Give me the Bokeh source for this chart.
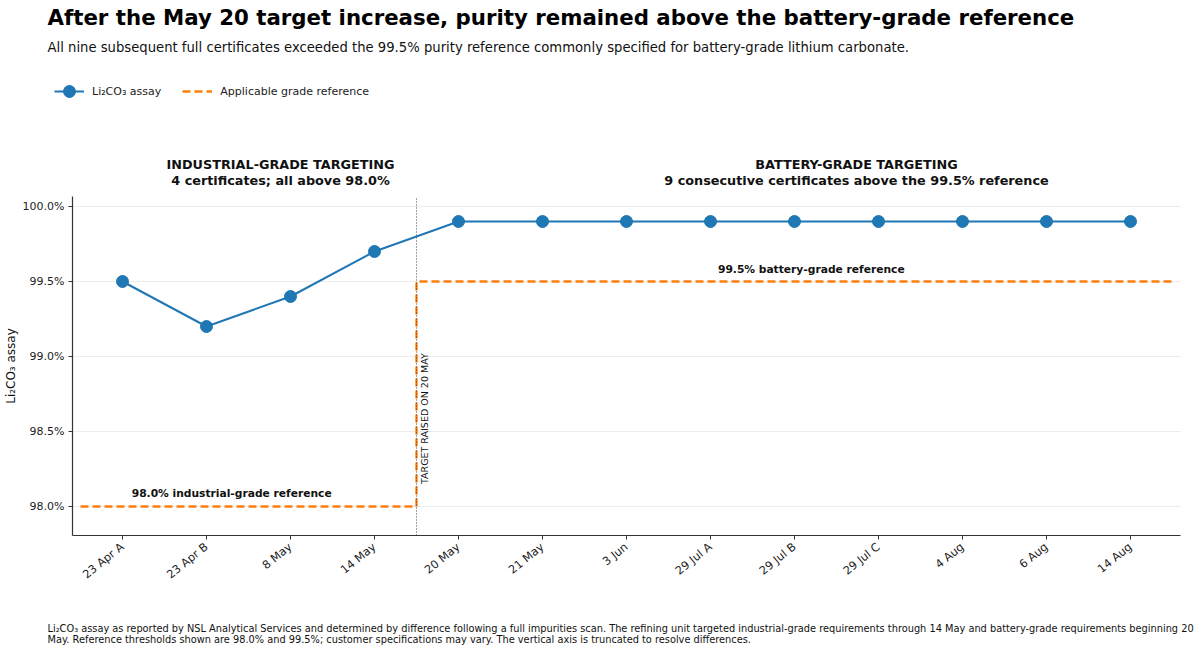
import numpy as np
from bokeh.plotting import figure
from bokeh.models import (Range1d, FixedTicker, PrintfTickFormatter, Label, LinearAxis,
                          Legend, LegendItem, ColumnDataSource, Grid)
from bokeh.embed import file_html
from bokeh.resources import INLINE

# ---------------- data ----------------
categories = ["23 Apr A", "23 Apr B", "8 May", "14 May", "20 May", "21 May", "3 Jun",
              "29 Jul A", "29 Jul B", "29 Jul C", "4 Aug", "6 Aug", "14 Aug"]
assay = [99.5, 99.2, 99.4, 99.7, 99.9, 99.9, 99.9, 99.9, 99.9, 99.9, 99.9, 99.9, 99.9]
n_industrial = 4                      # certificates under industrial-grade targeting
reference_levels = [98.0, 99.5]       # industrial, battery grade reference (%)
y_ticks = [98.0, 98.5, 99.0, 99.5, 100.0]

FONT = "DejaVu Sans"
BLUE = "#1f77b4"
ORANGE = "#ff7f0e"
AXIS = "#333333"

# canvas geometry (one figure whose frame covers the whole canvas)
W, H = 1196, 650
PX_X, X0_PX = 84.0, 122.0        # pixels per category step, pixel of first category
PX_Y, Y100_PX = 150.0, 206.0     # pixels per 1 %, pixel of 100 %
x_lo, x_hi = -0.595, len(categories) - 1 + 0.595      # plotting area
y_lo, y_hi = 97.8067, 100.0667

x = list(range(len(categories)))
switch = n_industrial - 0.5
start, end = -0.5, len(categories) - 0.5

p = figure(width=W, height=H, output_backend="svg", toolbar_location=None,
           x_range=Range1d(-X0_PX / PX_X, (W - X0_PX) / PX_X),
           y_range=Range1d(100 - (H - Y100_PX) / PX_Y, 100 + Y100_PX / PX_Y),
           x_axis_location=None, y_axis_location=None,
           min_border=0, min_border_left=0, min_border_right=0,
           min_border_top=0, min_border_bottom=0)
p.background_fill_color = "white"
p.border_fill_color = "white"
p.outline_line_color = None
# drop any automatic grids
p.renderers = [r for r in p.renderers if not isinstance(r, Grid)]
p.center = [c for c in p.center if not isinstance(c, Grid)]

# axes fixed at the edges of the plotting area
yaxis = LinearAxis(fixed_location=x_lo, bounds=(y_lo, y_hi),
                   ticker=FixedTicker(ticks=y_ticks), formatter=PrintfTickFormatter(format="%.1f%%"))
xaxis = LinearAxis(fixed_location=y_lo, bounds=(x_lo, x_hi), ticker=FixedTicker(ticks=x),
                   major_label_overrides={i: c for i, c in zip(x, categories)},
                   major_label_orientation=0.68)
for ax in (xaxis, yaxis):
    ax.axis_line_color = AXIS
    ax.axis_line_width = 1.2
    ax.major_tick_line_color = AXIS
    ax.major_tick_out = 4
    ax.major_tick_in = 0
    ax.minor_tick_line_color = None
    ax.major_label_standoff = 4
    ax.major_label_text_font = FONT
    ax.major_label_text_font_size = "11px"
    ax.major_label_text_color = "#222222"
xaxis.major_label_standoff = 6
xaxis.major_label_text_font_size = "11.3px"
yaxis.axis_label = "Li₂CO₃ assay"
yaxis.axis_label_text_font = FONT
yaxis.axis_label_text_font_size = "12px"
yaxis.axis_label_text_font_style = "normal"
yaxis.axis_label_text_color = "#111111"
yaxis.axis_label_standoff = 2
p.add_layout(yaxis, "left")
p.add_layout(xaxis, "below")

# horizontal grid lines at the y ticks, limited to the plotting area
p.segment(x0=x_lo, x1=x_hi, y0=y_ticks, y1=y_ticks, line_color="#ececec", line_width=1)

# reference step line
ref_x = [start, switch, switch, end]
ref_y = [reference_levels[0], reference_levels[0], reference_levels[1], reference_levels[1]]
ref = p.line(ref_x, ref_y, line_color=ORANGE, line_width=2.4, line_dash="8 4")

# target change marker
p.segment(x0=[switch], x1=[switch], y0=[y_lo], y1=[y_hi], line_color="#444444",
          line_width=1, line_dash="1 2")

# assay series
src = ColumnDataSource(dict(x=x, y=assay))
ln = p.line("x", "y", source=src, line_color=BLUE, line_width=2)
sc = p.scatter("x", "y", source=src, size=12, fill_color=BLUE, line_color=BLUE)

legend = Legend(items=[LegendItem(label="Li₂CO₃ assay", renderers=[ln, sc]),
                       LegendItem(label="Applicable grade reference", renderers=[ref])],
                orientation="horizontal", location=(54, H - 106),
                label_text_font=FONT, label_text_font_size="11px", label_text_color="#222222",
                glyph_width=30, glyph_height=30, label_height=30, label_standoff=8,
                spacing=21, padding=4, margin=0, border_line_color=None,
                background_fill_alpha=0)
p.add_layout(legend, "center")

# data-anchored annotations
def dlabel(xv, yv, text, size, style="bold", align="center", angle=0, xo=0):
    p.add_layout(Label(x=xv, y=yv, text=text, text_font=FONT, text_font_size=size,
                       text_font_style=style, text_align=align, text_baseline="middle",
                       angle=angle, x_offset=xo, text_color="#111111"))

dlabel(1.30, 98.087, f"{reference_levels[0]:.1f}% industrial-grade reference", "10.7px")
dlabel(8.20, 99.58, f"{reference_levels[1]:.1f}% battery-grade reference", "10.7px")
dlabel(switch, 98.15, "TARGET RAISED ON 20 MAY", "9.5px", style="normal",
       align="left", angle=np.pi / 2, xo=8)

# page texts (screen units; y measured from the bottom of the canvas)
def slabel(px, py, text, size, style="normal", align="left", color="#111111"):
    p.add_layout(Label(x=px, y=H - py, x_units="screen", y_units="screen", text=text,
                       text_font=FONT, text_font_size=size, text_font_style=style,
                       text_align=align, text_baseline="middle", text_color=color))

slabel(47, 17, "After the May 20 target increase, purity remained above the battery-grade reference",
       "21.3px", "bold", color="#000000")
slabel(47, 47, "All nine subsequent full certificates exceeded the 99.5% purity reference commonly "
       "specified for battery-grade lithium carbonate.", "13.2px")
slabel(280, 164, "INDUSTRIAL-GRADE TARGETING", "12.8px", "bold", "center")
slabel(280, 180, f"{n_industrial} certificates; all above {reference_levels[0]:.1f}%",
       "12.8px", "bold", "center")
slabel(856, 164, "BATTERY-GRADE TARGETING", "12.8px", "bold", "center")
slabel(856, 180, f"{len(categories) - n_industrial} consecutive certificates above the "
       f"{reference_levels[1]:.1f}% reference", "12.8px", "bold", "center")
slabel(47, 628, "Li₂CO₃ assay as reported by NSL Analytical Services and determined by difference "
       "following a full impurities scan. The refining unit targeted industrial-grade requirements "
       "through 14 May and battery-grade requirements beginning 20", "9.8px")
slabel(47, 639, "May. Reference thresholds shown are 98.0% and 99.5%; customer specifications may "
       "vary. The vertical axis is truncated to resolve differences.", "9.8px")

open("out.html", "w").write(file_html(p, INLINE))
